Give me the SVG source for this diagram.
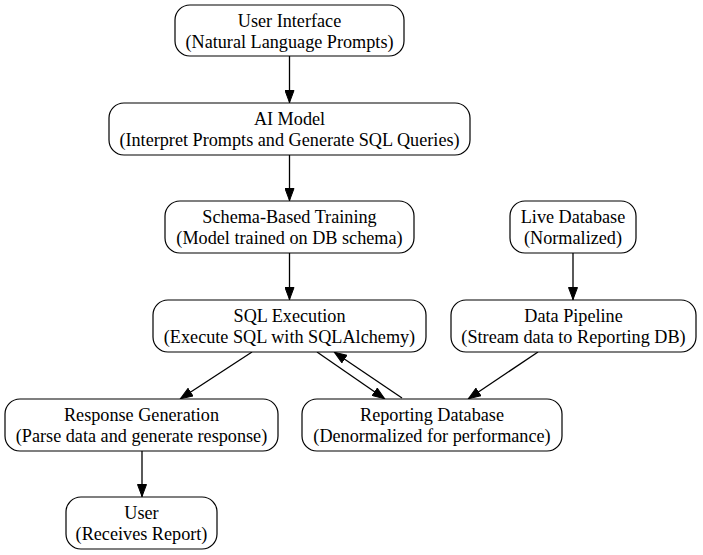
<svg xmlns="http://www.w3.org/2000/svg" width="703" height="555" viewBox="0 0 703 555">
<style>
.n rect{fill:#fff;stroke:#000;stroke-width:1.2}
.n text{font-family:"Liberation Serif","Times New Roman",serif;font-size:18.2px;text-anchor:middle;fill:#000}
.e line{stroke:#000;stroke-width:1.3;marker-end:url(#ah)}
</style>
<defs>
<marker id="ah" markerWidth="13" markerHeight="10" refX="13" refY="5" orient="auto" markerUnits="userSpaceOnUse">
<path d="M0.5,0.5 L12.5,5 L0.5,9.5 Z" fill="#000" stroke="#000"/>
</marker>
</defs>
<rect width="703" height="555" fill="#fff"/>
<g class="e">
<line x1="289.5" y1="56" x2="289.5" y2="103"/>
<line x1="289.5" y1="155" x2="289.5" y2="201"/>
<line x1="289.5" y1="253" x2="289.5" y2="300"/>
<line x1="573" y1="253" x2="573" y2="300"/>
<line x1="252" y1="352" x2="180" y2="399"/>
<line x1="317" y1="352" x2="385" y2="399"/>
<line x1="402" y1="398" x2="334" y2="352"/>
<line x1="538" y1="352" x2="468" y2="399"/>
<line x1="142" y1="451" x2="142" y2="497"/>
</g>
<g class="n" id="ui"><rect x="175" y="5" width="229" height="51" rx="15"/><text x="289.5" y="27">User Interface</text><text x="289.5" y="48">(Natural Language Prompts)</text></g>
<g class="n" id="ai"><rect x="109" y="103" width="361" height="52" rx="15"/><text x="289.5" y="125">AI Model</text><text x="289.5" y="146">(Interpret Prompts and Generate SQL Queries)</text></g>
<g class="n" id="schema"><rect x="165" y="201" width="249" height="52" rx="15"/><text x="289.5" y="223">Schema-Based Training</text><text x="289.5" y="244">(Model trained on DB schema)</text></g>
<g class="n" id="live"><rect x="510" y="201" width="126" height="52" rx="15"/><text x="573" y="223">Live Database</text><text x="573" y="244">(Normalized)</text></g>
<g class="n" id="sql"><rect x="153" y="300" width="273" height="52" rx="15"/><text x="289.5" y="322">SQL Execution</text><text x="289.5" y="343">(Execute SQL with SQLAlchemy)</text></g>
<g class="n" id="pipeline"><rect x="451" y="300" width="245" height="52" rx="15"/><text x="573.5" y="322">Data Pipeline</text><text x="573.5" y="343">(Stream data to Reporting DB)</text></g>
<g class="n" id="response"><rect x="5" y="399" width="273" height="52" rx="15"/><text x="141.5" y="421">Response Generation</text><text x="141.5" y="442">(Parse data and generate response)</text></g>
<g class="n" id="reporting"><rect x="302" y="399" width="260" height="52" rx="15"/><text x="432" y="421">Reporting Database</text><text x="432" y="442">(Denormalized for performance)</text></g>
<g class="n" id="user"><rect x="66" y="497" width="151" height="52" rx="15"/><text x="141.5" y="519">User</text><text x="141.5" y="540">(Receives Report)</text></g>
</svg>
